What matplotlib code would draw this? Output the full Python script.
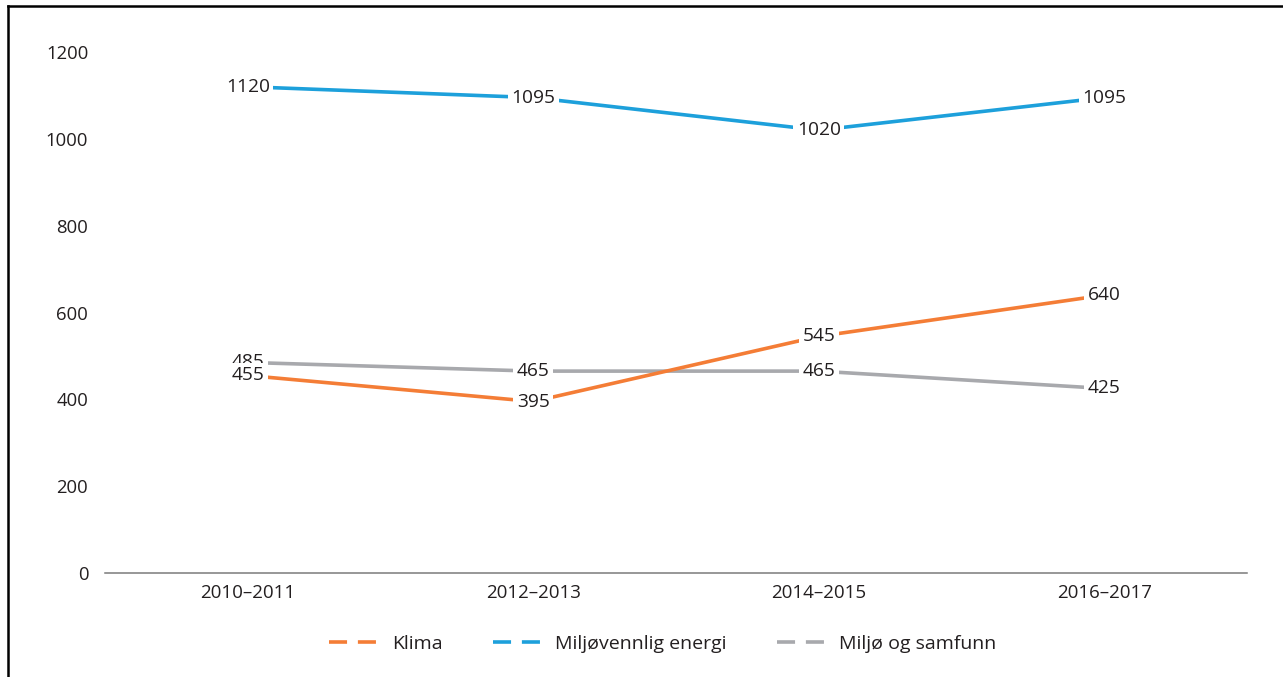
import matplotlib.pyplot as plt
from matplotlib.lines import Line2D

periods = ['2010–2011', '2012–2013', '2014–2015', '2016–2017']
klima = [455, 395, 545, 640]
energi = [1120, 1095, 1020, 1095]
samfunn = [485, 465, 465, 425]

series = [
    ('Klima', klima, '#F47D36'),
    ('Miljøvennlig energi', energi, '#1DA0DB'),
    ('Miljø og samfunn', samfunn, '#A8A9AD'),
]
text_color = '#231F20'

plt.rcParams['font.family'] = ['Open Sans', 'DejaVu Sans']
plt.rcParams['font.size'] = 13

fig = plt.figure(figsize=(12.83, 6.77), dpi=100)
ax = fig.add_axes([105 / 1283, 1 - 573 / 677, (1247 - 105) / 1283, (573 - 52) / 677])

x = list(range(len(periods)))
# grå linje tegnes under oransje, tekst for 455 over 485
draw_order = [series[2], series[1], series[0]]
for z, (name, vals, color) in enumerate(draw_order):
    ax.plot(x, vals, color=color, lw=2.6, solid_capstyle='butt', zorder=2 + z)
    for xi, v in zip(x, vals):
        ax.text(xi, v, str(v), ha='center', va='center', color=text_color, fontsize=13.8,
                zorder=10 + z,
                bbox=dict(boxstyle='square,pad=0.18', fc='white', ec='none'))

ax.set_xlim(-0.5, len(periods) - 0.5)
ax.set_ylim(0, 1200)
ax.set_yticks(range(0, 1201, 200))
ax.set_xticks(x)
ax.set_xticklabels(periods)
ax.tick_params(axis='y', length=0, pad=12, colors=text_color, labelsize=13.3)
ax.tick_params(axis='x', length=0, pad=8, colors=text_color, labelsize=13.5)
for side in ['top', 'right', 'left']:
    ax.spines[side].set_visible(False)
ax.spines['bottom'].set_color('#7a7a7a')
ax.spines['bottom'].set_linewidth(1.1)

handles = [Line2D([], [], color=c, lw=2.6, linestyle=(0, (5, 3))) for _, _, c in series]
fig.legend(handles, [s[0] for s in series], loc='center', bbox_to_anchor=(663 / 1283, 1 - 644 / 677),
           ncol=3, frameon=False, handlelength=2.5, handletextpad=0.7, columnspacing=2.6,
           fontsize=14, labelcolor=text_color)

# ramme oppe og til venstre
fig.add_artist(Line2D([8 / 1283, 8 / 1283], [0, 1 - 6 / 677], transform=fig.transFigure,
                      color='black', lw=1.8))
fig.add_artist(Line2D([8 / 1283, 1], [1 - 6 / 677, 1 - 6 / 677], transform=fig.transFigure,
                      color='black', lw=1.8))

fig.savefig('out.png', dpi=100)
